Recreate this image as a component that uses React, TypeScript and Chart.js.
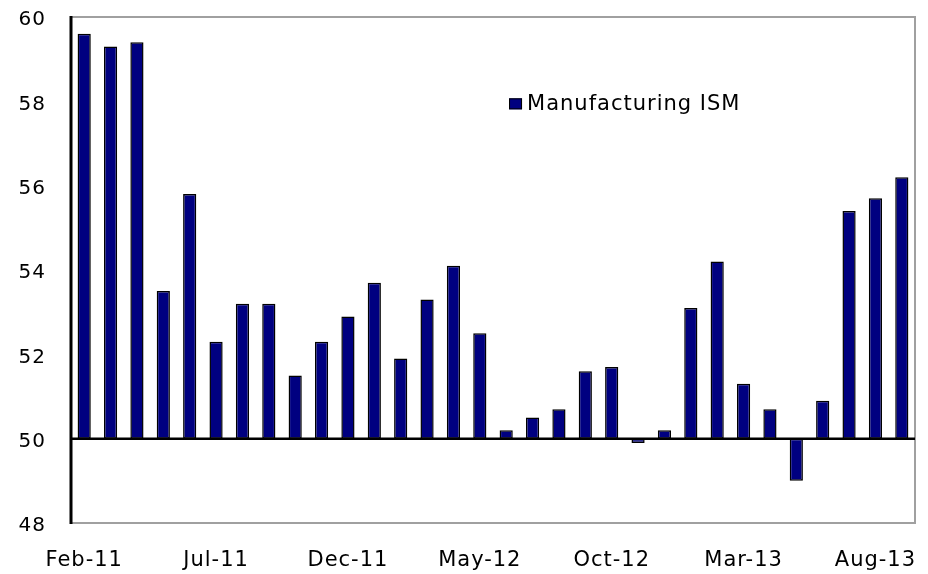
import React, { useEffect, useRef } from "react";
import { Chart, registerables } from "chart.js";

Chart.register(...registerables);

const months: string[] = [
  "Feb-11", "Mar-11", "Apr-11", "May-11", "Jun-11", "Jul-11", "Aug-11", "Sep-11",
  "Oct-11", "Nov-11", "Dec-11", "Jan-12", "Feb-12", "Mar-12", "Apr-12", "May-12",
  "Jun-12", "Jul-12", "Aug-12", "Sep-12", "Oct-12", "Nov-12", "Dec-12", "Jan-13",
  "Feb-13", "Mar-13", "Apr-13", "May-13", "Jun-13", "Jul-13", "Aug-13", "Sep-13",
];

const ismValues: number[] = [
  59.6, 59.3, 59.4, 53.5, 55.8, 52.3, 53.2, 53.2,
  51.5, 52.3, 52.9, 53.7, 51.9, 53.3, 54.1, 52.5,
  50.2, 50.5, 50.7, 51.6, 51.7, 49.9, 50.2, 53.1,
  54.2, 51.3, 50.7, 49.0, 50.9, 55.4, 55.7, 56.2,
];

const baseline = 50;
const yTicks: number[] = [48, 50, 52, 54, 56, 58, 60];
const seriesLabel = "Manufacturing ISM";
const FONT = "'DejaVu Sans', Verdana, sans-serif";

const setSpacing = (chart: any) => {
  try {
    chart.ctx.letterSpacing = "1px";
  } catch (e) {}
};

const framePlugin = {
  id: "frame",
  beforeUpdate: setSpacing,
  beforeLayout: setSpacing,
  beforeDraw: setSpacing,
  afterDatasetsDraw(chart: any) {
    const { ctx, chartArea, scales } = chart;
    const { left, right, top, bottom } = chartArea;
    ctx.save();
    ctx.strokeStyle = "#a0a0a0";
    ctx.lineWidth = 2;
    ctx.beginPath();
    ctx.moveTo(left, top);
    ctx.lineTo(right, top);
    ctx.lineTo(right, bottom);
    ctx.lineTo(left, bottom);
    ctx.stroke();
    ctx.strokeStyle = "#000";
    ctx.lineWidth = 3;
    ctx.beginPath();
    ctx.moveTo(left, top - 1);
    ctx.lineTo(left, bottom + 1);
    ctx.stroke();
    const y50 = scales.y.getPixelForValue(baseline);
    ctx.lineWidth = 2.5;
    ctx.beginPath();
    ctx.moveTo(left, y50);
    ctx.lineTo(right, y50);
    ctx.stroke();
    const x0 = left + (right - left) * 0.519;
    const yL = scales.y.getPixelForValue(58) + 3;
    ctx.fillStyle = "#000080";
    ctx.strokeStyle = "#000";
    ctx.lineWidth = 1;
    ctx.fillRect(x0, yL - 6, 13, 11);
    ctx.strokeRect(x0 + 0.5, yL - 5.5, 12, 10);
    ctx.fillStyle = "#000";
    ctx.font = `21px ${FONT}`;
    ctx.letterSpacing = "1px";
    ctx.textBaseline = "middle";
    ctx.textAlign = "left";
    ctx.fillText(chart.data.datasets[0].label, x0 + 18, yL);
    ctx.restore();
  },
};

export default function App() {
  const canvasRef = useRef<HTMLCanvasElement | null>(null);

  useEffect(() => {
    if (!canvasRef.current) return;
    const chart = new Chart(canvasRef.current, {
      type: "bar",
      data: {
        labels: months,
        datasets: [
          {
            label: seriesLabel,
            data: ismValues.map((v) => [baseline, v]) as any,
            backgroundColor: "#000080",
            borderColor: "#000000",
            borderWidth: 1.5,
            borderSkipped: false,
            categoryPercentage: 1,
            barPercentage: 0.5,
          },
        ],
      },
      options: {
        animation: false,
        responsive: false,
        maintainAspectRatio: false,
        layout: { padding: { top: 17, right: 13, left: 0, bottom: 0 } },
        plugins: {
          legend: { display: false },
          tooltip: { enabled: false },
        },
        scales: {
          x: {
            type: "category",
            offset: true,
            grid: { display: false, drawTicks: false },
            border: { display: false },
            ticks: {
              autoSkip: false,
              maxRotation: 0,
              color: "#000",
              font: { family: FONT, size: 21 },
              padding: 25,
              callback: (_v: any, i: number) => (i % 5 === 0 ? months[i] : ""),
            },
            afterFit: (s: any) => {
              s.height = 51;
              s.paddingLeft = 0;
              s.paddingRight = 0;
            },
          },
          y: {
            min: 48,
            max: 60,
            afterBuildTicks: (s: any) => {
              s.ticks = yTicks.map((v) => ({ value: v }));
            },
            grid: { display: false, drawTicks: false },
            border: { display: false },
            ticks: {
              color: "#000",
              font: { family: FONT, size: 20 },
              padding: 25,
              labelOffset: 3,
            },
            afterFit: (s: any) => {
              s.width = 71;
              s.paddingTop = 0;
              s.paddingBottom = 0;
            },
          },
        },
      },
      plugins: [framePlugin],
    });
    return () => chart.destroy();
  }, []);

  return (
    <div style={{ position: "fixed", left: 0, top: 0, width: 928, height: 574, background: "#fff" }}>
      <canvas ref={canvasRef} width={928} height={574} style={{ width: 928, height: 574 }} />
    </div>
  );
}
